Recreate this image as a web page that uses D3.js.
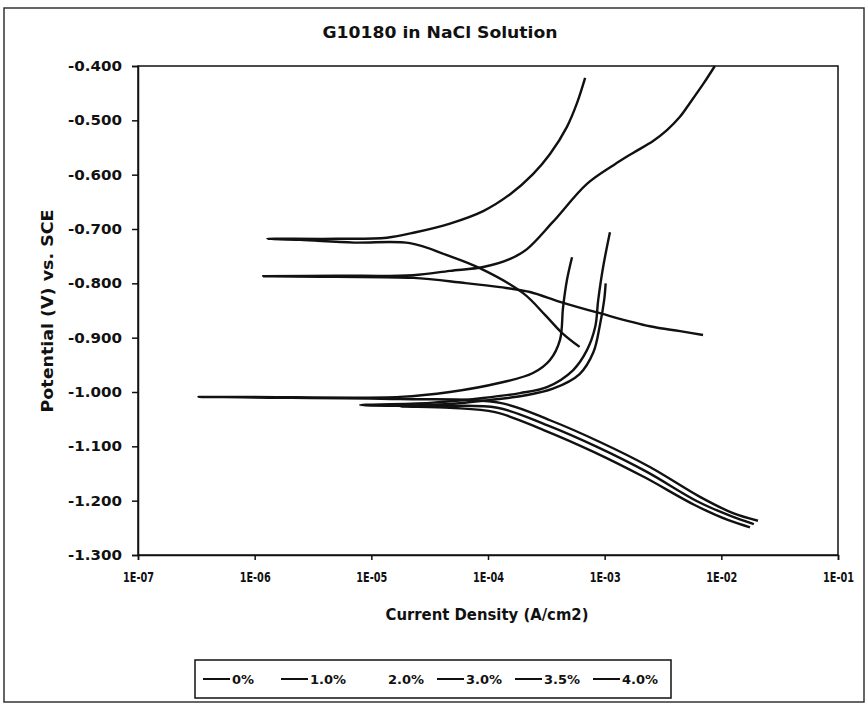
<!DOCTYPE html>
<html>
<head>
<meta charset="utf-8">
<script src="https://cdn.jsdelivr.net/npm/d3@7"></script>
<style>
  body { margin: 0; background: #fff; }
  svg text { font-family: "DejaVu Sans", "Liberation Sans", Arial, sans-serif; font-weight: bold; fill: #111; }
</style>
</head>
<body>
<svg id="chart" width="867" height="705"></svg>
<script>
// series names as in the legend
const seriesNames = ["0%", "1.0%", "2.0%", "3.0%", "3.5%", "4.0%"];
const seriesColors = ["#111", "#111", "#fff", "#111", "#111", "#111"];

// [current density (A/cm2), potential (V vs SCE)]
const pct0 = [
  [6.97e-3, -0.895], [4.43e-3, -0.888], [2.44e-3, -0.879], [9.1e-4, -0.855], [4.14e-4, -0.834],
  [2.29e-4, -0.816], [1.27e-4, -0.807], [6.1e-5, -0.799], [2.28e-5, -0.790], [5.0e-6, -0.788],
  [1.18e-6, -0.787], [5.0e-6, -0.786], [2.28e-5, -0.785], [4.72e-5, -0.777], [9.1e-5, -0.770],
  [1.55e-4, -0.755], [2.16e-4, -0.737], [3.6e-4, -0.687], [7.05e-4, -0.617], [1.2e-3, -0.582],
  [1.75e-3, -0.560], [2.6e-3, -0.538], [3.42e-3, -0.518], [4.4e-3, -0.494], [5.38e-3, -0.468],
  [7.0e-3, -0.433], [8.8e-3, -0.400]
];
const pct1 = [
  [6.1e-4, -0.917], [4.3e-4, -0.891], [3.08e-4, -0.858], [2.0e-4, -0.818], [8.5e-5, -0.772],
  [4.45e-5, -0.748], [2.14e-5, -0.726], [7.1e-6, -0.725], [2.45e-6, -0.720], [1.28e-6, -0.718],
  [5.0e-6, -0.718], [1.36e-5, -0.716], [2.4e-5, -0.706], [4.72e-5, -0.690], [9.1e-5, -0.667],
  [1.55e-4, -0.636], [2.43e-4, -0.599], [3.4e-4, -0.562], [4.75e-4, -0.512], [5.8e-4, -0.468],
  [6.8e-4, -0.422]
];
const pct2 = [
  [1.9e-2, -1.240], [1.2e-2, -1.225], [6.3e-3, -1.197], [2.3e-3, -1.142], [8.8e-4, -1.096],
  [3.3e-4, -1.056], [1.2e-4, -1.024], [3.0e-5, -1.018], [1.44e-6, -1.016], [3.0e-5, -1.013],
  [1.0e-4, -1.008], [3.0e-4, -0.990], [5.0e-4, -0.960], [6.0e-4, -0.900], [6.5e-4, -0.850]
];
const pct3 = [
  [2.06e-2, -1.237], [1.26e-2, -1.223], [6.56e-3, -1.193], [2.44e-3, -1.138], [9.1e-4, -1.092],
  [3.4e-4, -1.052], [1.27e-4, -1.020], [1.76e-5, -1.013], [1.0e-6, -1.010], [3.3e-7, -1.009],
  [1.0e-6, -1.009], [1.76e-5, -1.009], [4.72e-5, -1.000], [1.27e-4, -0.983], [2.43e-4, -0.965],
  [3.4e-4, -0.941], [4.14e-4, -0.904], [4.4e-4, -0.844], [4.75e-4, -0.794], [5.25e-4, -0.752]
];
const pct35 = [
  [1.9e-2, -1.243], [1.2e-2, -1.228], [6.2e-3, -1.201], [2.3e-3, -1.147], [8.6e-4, -1.101],
  [3.2e-4, -1.061], [1.2e-4, -1.029], [3.18e-5, -1.026], [8.0e-6, -1.024], [3.18e-5, -1.020],
  [9.1e-5, -1.011], [1.88e-4, -1.002], [3.2e-4, -0.991], [5.35e-4, -0.960], [7.05e-4, -0.923],
  [8.3e-4, -0.880], [8.8e-4, -0.831], [9.7e-4, -0.770], [1.11e-3, -0.706]
];
const pct4 = [
  [1.76e-2, -1.249], [1.15e-2, -1.236], [5.9e-3, -1.208], [2.2e-3, -1.157], [8.2e-4, -1.111],
  [3.0e-4, -1.070], [1.15e-4, -1.037], [4.72e-5, -1.029], [1.76e-5, -1.026], [4.72e-5, -1.022],
  [1.0e-4, -1.015], [2.0e-4, -1.007], [3.6e-4, -0.994], [6.1e-4, -0.967], [8.0e-4, -0.927],
  [9.1e-4, -0.877], [9.9e-4, -0.831], [1.02e-3, -0.800]
];

const xTicks = [1e-7, 1e-6, 1e-5, 1e-4, 1e-3, 1e-2, 1e-1];
const yTicks = [-0.4, -0.5, -0.6, -0.7, -0.8, -0.9, -1.0, -1.1, -1.2, -1.3];

function draw() {
  const svg = d3.select("#chart");
  const left = 138, right = 838, top = 66, bottom = 555;

  const x = d3.scaleLog().domain([1e-7, 1e-1]).range([left, right]);
  const y = d3.scaleLinear().domain([-1.3, -0.4]).range([bottom, top]);

  // outer chart border
  svg.append("rect")
    .attr("x", 4).attr("y", 8).attr("width", 860).attr("height", 694)
    .attr("fill", "none").attr("stroke", "#333").attr("stroke-width", 1.5);

  // title
  svg.append("text")
    .attr("x", 440).attr("y", 38)
    .attr("text-anchor", "middle")
    .attr("font-size", "16px")
    .attr("textLength", 235).attr("lengthAdjust", "spacingAndGlyphs")
    .text("G10180 in NaCl Solution");

  // plot frame
  svg.append("rect")
    .attr("x", left).attr("y", top).attr("width", right - left).attr("height", bottom - top)
    .attr("fill", "none").attr("stroke", "#111").attr("stroke-width", 1.5);

  // y axis
  const yAxis = svg.append("g")
    .attr("transform", "translate(" + left + ",0)")
    .call(d3.axisLeft(y).tickValues(yTicks).tickSize(6).tickPadding(10)
      .tickFormat(d => d.toFixed(3)));
  yAxis.select(".domain").attr("stroke", "#111").attr("stroke-width", 1.5);
  yAxis.selectAll(".tick line").attr("stroke", "#111").attr("stroke-width", 1.5);
  yAxis.selectAll(".tick text")
    .attr("font-size", "14px")
    .attr("textLength", 54).attr("lengthAdjust", "spacingAndGlyphs")
    .attr("fill", "#111");

  // x axis
  const xAxis = svg.append("g")
    .attr("transform", "translate(0," + bottom + ")")
    .call(d3.axisBottom(x).tickValues(xTicks).tickSize(5).tickPadding(12)
      .tickFormat(d => "1E-0" + Math.round(-Math.log10(d))));
  xAxis.select(".domain").attr("stroke", "#111").attr("stroke-width", 1.5);
  xAxis.selectAll(".tick line").attr("stroke", "#111").attr("stroke-width", 1.5);
  xAxis.selectAll(".tick text")
    .attr("font-size", "14px")
    .attr("textLength", 31).attr("lengthAdjust", "spacingAndGlyphs")
    .attr("fill", "#111");

  // axis titles
  svg.append("text")
    .attr("x", 487).attr("y", 620)
    .attr("text-anchor", "middle")
    .attr("font-size", "15px")
    .attr("textLength", 203).attr("lengthAdjust", "spacingAndGlyphs")
    .text("Current Density (A/cm2)");

  svg.append("text")
    .attr("transform", "translate(53,311) rotate(-90)")
    .attr("text-anchor", "middle")
    .attr("font-size", "15px")
    .attr("textLength", 203).attr("lengthAdjust", "spacingAndGlyphs")
    .text("Potential (V) vs. SCE");

  // curves
  const series = [pct0, pct1, pct2, pct3, pct35, pct4];
  const line = d3.line()
    .x(d => x(d[0]))
    .y(d => y(d[1]))
    .curve(d3.curveCatmullRom.alpha(0.5));

  // draw the light 2.0% series first so it sits underneath
  const order = [2, 0, 1, 3, 4, 5];
  svg.append("g").selectAll("path")
    .data(order)
    .join("path")
    .attr("d", i => line(series[i]))
    .attr("fill", "none")
    .attr("stroke", i => seriesColors[i])
    .attr("stroke-width", 2.4)
    .attr("stroke-linejoin", "round");

  // legend
  const lg = svg.append("g");
  lg.append("rect")
    .attr("x", 195).attr("y", 660).attr("width", 476).attr("height", 38)
    .attr("fill", "none").attr("stroke", "#111").attr("stroke-width", 1.5);

  const itemW = 78;
  const items = lg.selectAll("g.item")
    .data(seriesNames)
    .join("g")
    .attr("class", "item")
    .attr("transform", (d, i) => "translate(" + (203 + i * itemW) + ",679)");
  items.append("line")
    .attr("x1", 0).attr("x2", 27).attr("y1", 0).attr("y2", 0)
    .attr("stroke", (d, i) => seriesColors[i])
    .attr("stroke-width", 2);
  items.append("text")
    .attr("x", 29).attr("y", 5)
    .attr("font-size", "13px")
    .text(d => d);
}

window.onload = draw;
</script>
</body>
</html>
